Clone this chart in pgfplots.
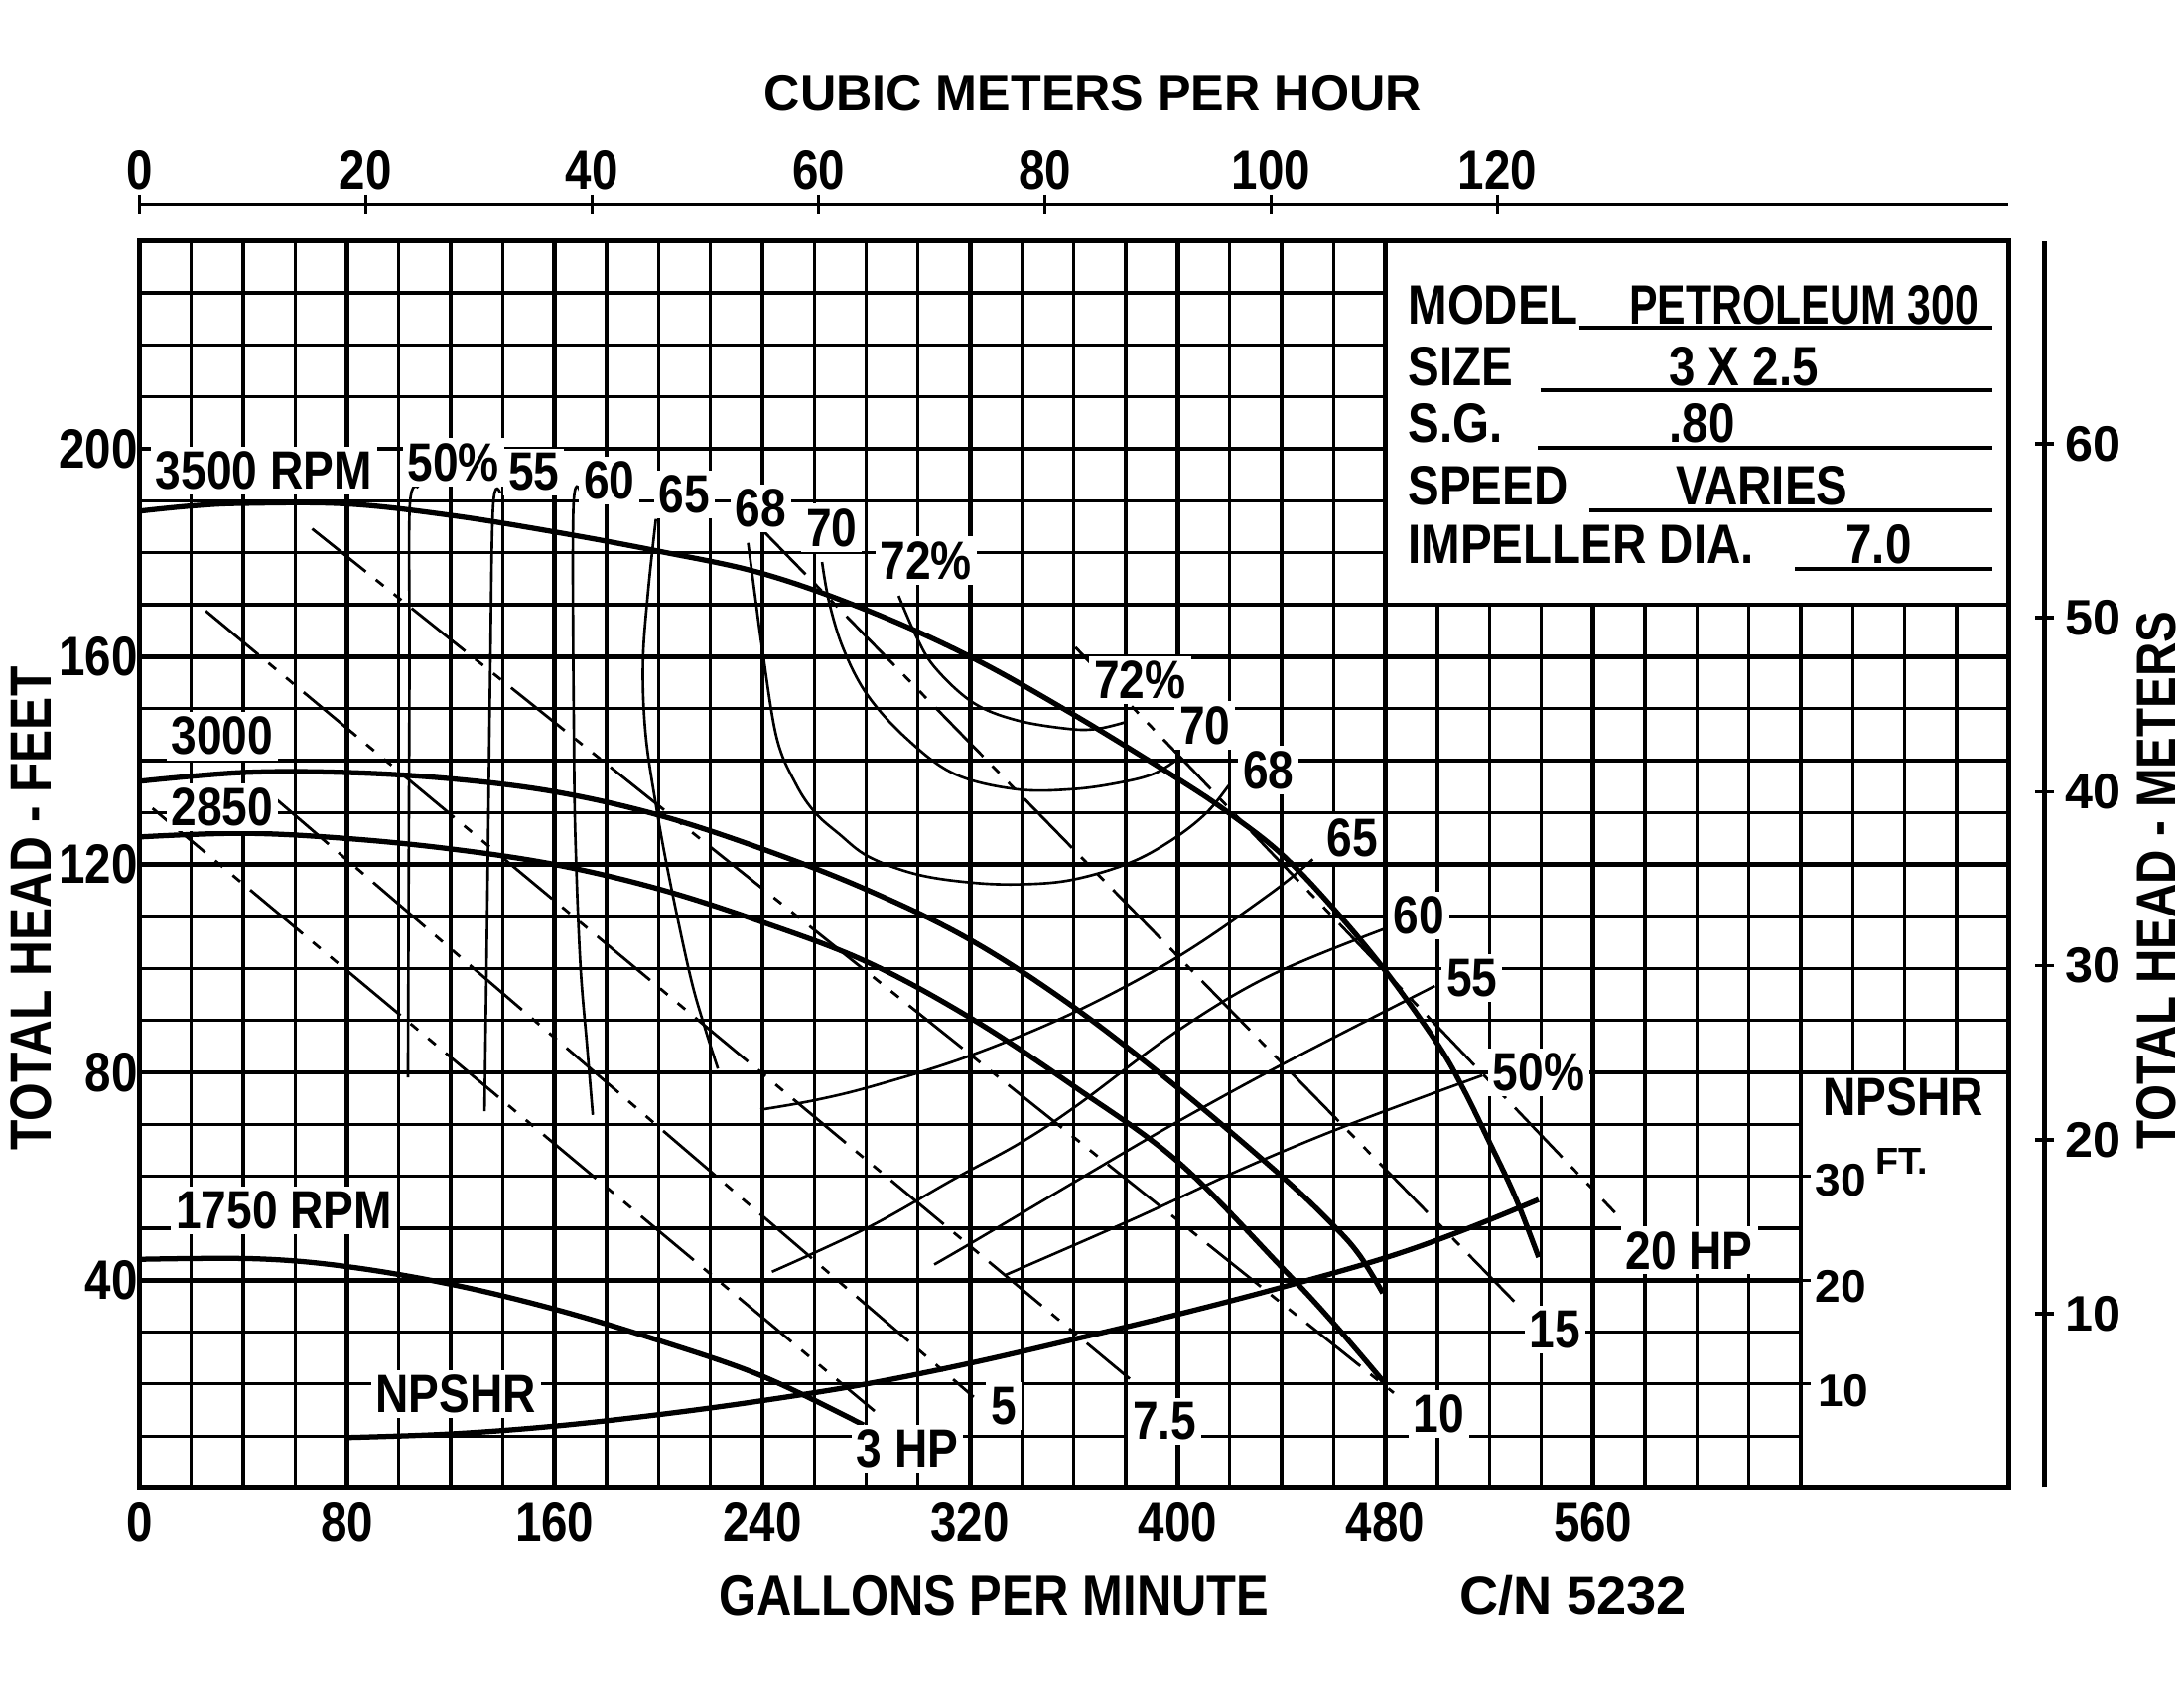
\documentclass[border=0pt]{standalone}
\usepackage{fontspec}
\setmainfont{Liberation Sans}[FakeStretch=0.85]
\newfontfamily\widefont{Liberation Sans}
\usepackage{pgfplots}
\pgfplotsset{compat=1.18}

\newcommand{\fTick}{\fontsize{17}{17}\selectfont\bfseries}
\newcommand{\fLab}{\fontsize{16.5}{17}\selectfont\bfseries}
\newcommand{\fBox}{\fontsize{17}{17}\selectfont\bfseries}
\newcommand{\fWide}{\widefont\fontsize{15.3}{16}\selectfont\bfseries}

\pgfplotsset{
  head/.style={line width=1.6pt, smooth, tension=0.6, no markers},
  eff/.style={line width=0.8pt, smooth, tension=0.6, no markers},
  hp/.style={line width=0.85pt, no markers, dash pattern=on 21pt off 4pt on 3pt off 4pt on 3pt off 4pt},
}
\tikzset{lab/.style={fill=white, inner sep=1.5pt, font=\fLab}}

\begin{document}
\begin{tikzpicture}
\useasboundingbox (-1.5,-2.16) rectangle (22.02,16.02);

% cubic meters per hour scale (top)
\begin{axis}[at={(0,0)}, anchor=south west, scale only axis,
  width=20.13cm, height=13.821cm,
  xmin=0, xmax=165.14, ymin=0, ymax=1,
  hide y axis, axis x line*=top, axis line style={-, line width=1pt},
  xtick={0,20,...,120}, xticklabels={0,20,40,60,80,100,120},
  tick align=center, major tick length=6pt, tick style={line width=1pt, black},
  xticklabel style={font=\fTick, yshift=-2pt}]
\end{axis}

% total head in metres (right)
\begin{axis}[at={(0,0)}, anchor=south west, scale only axis,
  width=20.52cm, height=13.425cm,
  xmin=0, xmax=1, ymin=0, ymax=71.64,
  hide x axis, axis y line*=right, axis line style={-, line width=1.5pt},
  ytick={10,20,...,60}, yticklabels={10,20,30,40,50,60},
  tick align=center, major tick length=0.2cm, tick style={line width=1.1pt, black},
  yticklabel style={font=\fWide, anchor=west}]
\end{axis}

% main chart: GPM vs total head in feet
\begin{axis}[at={(0,0)}, anchor=south west, scale only axis,
  width=20.13cm, height=13.425cm,
  xmin=0, xmax=720, ymin=0, ymax=240,
  xtick={0,80,...,720}, xticklabels={0,80,160,240,320,400,480,560,{},{}},
  ytick={0,40,...,240}, yticklabels={{},40,80,120,160,200,{}},
  minor x tick num=3, minor y tick num=3,
  grid=both,
  major grid style={line width=1.45pt, black},
  minor grid style={line width=1pt, black},
  major tick length=0pt, minor tick length=0pt,
  xticklabel style={font=\fTick, yshift=-1pt},
  yticklabel style={font=\fTick, xshift=3pt},
  axis line style={line width=1.6pt},
  clip=false]

% blank areas: data box and NPSHR scale
\fill[white] (axis cs:480,170) rectangle (axis cs:720,240);
\fill[white] (axis cs:640,0) rectangle (axis cs:720,80);
\draw[line width=1.45pt] (axis cs:640,0) -- (axis cs:640,80) -- (axis cs:720,80);
\draw[line width=1.5pt] (axis cs:480,240) -- (axis cs:480,170) -- (axis cs:720,170);

% NPSHR scale (NPSHR ft = head ft / 2)
\draw[line width=1pt] (axis cs:640,60) -- (axis cs:643.8,60);
\draw[line width=1pt] (axis cs:640,40) -- (axis cs:643.8,40);
\draw[line width=1pt] (axis cs:640,20) -- (axis cs:643.8,20);
\node[font=\fWide\fontsize{14}{14}\selectfont] at (axis cs:655.4,59.2) {30};
\node[font=\fWide\fontsize{14}{14}\selectfont] at (axis cs:655.5,38.8) {20};
\node[font=\fWide\fontsize{14}{14}\selectfont] at (axis cs:656.4,18.7) {10};
\node[font=\fontsize{16.5}{17}\selectfont\bfseries] at (axis cs:679.5,75.3) {NPSHR};
\node[font=\widefont\fontsize{11.5}{12}\selectfont\bfseries] at (axis cs:679,62.8) {FT.};

% head curves
\addplot[head] coordinates {(0,188) (20,189) (40,189.5) (80,189.4) (120,187.2) (160,184) (200,180.3) (240,176) (280,169) (320,160) (360,148.8) (400,136.5) (420,129.8) (440,122) (460,111.5) (480,99.5) (500,85.5) (510,76.8) (520,66.6) (530,56) (539,44.4)};
\addplot[head] coordinates {(0,136) (40,137.7) (80,137.7) (120,136.5) (160,134) (200,129.5) (240,123) (280,115.2) (320,105.5) (360,92.5) (400,77) (440,60) (460,50.5) (470,44.8) (479,37.5)};
\addplot[head] coordinates {(0,125.3) (40,126) (80,125) (120,123) (160,120) (200,115.3) (240,108.9) (280,101.3) (320,90.5) (360,77.3) (400,62.8) (440,42.5) (460,31.7) (480,20)};
\addplot[head] coordinates {(0,44) (45,44.1) (80,42.6) (120,39.2) (160,34.4) (200,28.4) (240,21.5) (279,12.1)};
% NPSHR curve (plotted at twice NPSHR ft)
\addplot[head] coordinates {(80.4,9.7) (120,10.4) (160,11.9) (200,14.1) (240,16.8) (280,20) (320,24) (360,28.6) (400,33.4) (440,38.6) (480,44.3) (510,49.6) (539,55.5)};

% efficiency contours
\addplot[eff] coordinates {(103.5,79) (103.8,120) (104.1,160) (104.2,189) (107.5,192.5)};
\addplot[eff] coordinates {(133,72.5) (134,110) (135.2,158) (136.3,189) (139,191.5)};
\addplot[eff] coordinates {(174.7,71.8) (172.5,85) (170,100) (168.3,120) (167.5,140) (167.2,188.4) (170.6,190.5)};
\addplot[eff] coordinates {(222.9,80.7) (217.4,89.3) (212,99) (204,117.8) (199,131.5) (195,145.2) (194,158.9) (196,172.6) (199,186.5)};
\addplot[eff] coordinates {(239.3,72.8) (260,74.6) (283,77.4) (320,83.2) (360,91.5) (400,102.2) (436,114.5) (452,121)};
\addplot[eff] coordinates {(243.7,41.6) (281,50.2) (314,59.5) (340,66.6) (362,73.9) (400,88) (436,98.7) (479.6,107.6)};
\addplot[eff] coordinates {(306.2,43) (321.4,47.4) (362,59.4) (400,70.5) (444,82.5) (499,96.6)};
\addplot[eff] coordinates {(333.7,41) (382.7,51.7) (423.5,61.1) (464.3,69.6) (517.3,79.4)};
\addplot[eff] coordinates {(234.5,181.9) (237.2,171.7) (240,161.4) (245.5,144.4) (252.9,135.5) (260.3,130) (269.5,125.9) (281,121.5) (299.5,118.1) (321,116.5) (340.5,116.2) (359.7,117.1) (381.4,120.3) (398,124.8) (411,129.9) (419.6,135.2)};
\addplot[eff] coordinates {(263,178.2) (265.8,170.3) (271.3,161.4) (280.5,152.6) (295.2,144.4) (313.7,137.5) (337.6,134.5) (359.7,134.5) (378.1,135.8) (391,137.5) (400,140.3)};
\addplot[eff] coordinates {(292.5,171.7) (299,164.2) (306.3,158) (321,151.2) (337.6,147.8) (357.9,146.1) (369,146.1) (380,147.4)};

% horsepower lines
\addplot[hp] coordinates {(5.1,130.8) (283.2,14.8)};
\addplot[hp] coordinates {(52.9,132.5) (321.4,17.5)};
\addplot[hp] coordinates {(25.6,168.8) (381.5,21)};
\addplot[hp] coordinates {(66.6,184.6) (483.2,18.3)};
\addplot[hp] coordinates {(238.2,185.3) (529.6,35.9)};
\addplot[hp] coordinates {(360.6,161.8) (568.4,53)};

% curve labels
\node[lab] at (axis cs:48,195.8) {3500 RPM};
\node[lab] at (axis cs:32,144.7) {3000};
\node[lab] at (axis cs:32,131) {2850};
\node[lab] at (axis cs:55.8,53.4) {1750 RPM};
\node[lab] at (axis cs:122,18) {NPSHR};
\node[lab] at (axis cs:121,197.4) {50\%};
\node[lab] at (axis cs:152,195.5) {55};
\node[lab] at (axis cs:181,193.9) {60};
\node[lab] at (axis cs:210,191.2) {65};
\node[lab] at (axis cs:239.5,188.6) {68};
\node[lab] at (axis cs:266.7,184.8) {70};
\node[lab] at (axis cs:303,178.5) {72\%};
\node[lab] at (axis cs:385.5,155.5) {72\%};
\node[lab] at (axis cs:410.5,146.8) {70};
\node[lab] at (axis cs:435,138.2) {68};
\node[lab] at (axis cs:467.3,125.1) {65};
\node[lab] at (axis cs:492.8,110.2) {60};
\node[lab] at (axis cs:513.3,98.2) {55};
\node[lab] at (axis cs:539,80) {50\%};
\node[lab] at (axis cs:597,45.7) {20 HP};
\node[lab] at (axis cs:545.4,30.5) {15};
\node[lab] at (axis cs:500.5,14.3) {10};
\node[lab] at (axis cs:395,12.8) {7.5};
\node[lab] at (axis cs:333,15.7) {5};
\node[lab] at (axis cs:295.8,7.6) {3 HP};

% data box
\node[font=\fBox, anchor=base west, inner xsep=0pt] at (axis cs:488.5,223.9) {MODEL};
\node[font=\fBox, anchor=base west, inner xsep=0pt] at (axis cs:573.7,223.9) {\scalebox{0.9}[1]{PETROLEUM 300}};
\node[font=\fBox, anchor=base west, inner xsep=0pt] at (axis cs:488.5,212.1) {SIZE};
\node[font=\fBox, anchor=base] at (axis cs:618,212.1) {3 X 2.5};
\node[font=\fBox, anchor=base west, inner xsep=0pt] at (axis cs:488.5,201.3) {S.G.};
\node[font=\fBox, anchor=base] at (axis cs:602,201.3) {.80};
\node[font=\fBox, anchor=base west, inner xsep=0pt] at (axis cs:488.5,189.2) {SPEED};
\node[font=\fBox, anchor=base] at (axis cs:625,189.2) {VARIES};
\node[font=\fBox, anchor=base west, inner xsep=0pt] at (axis cs:488.5,178) {IMPELLER DIA.};
\node[font=\fBox, anchor=base] at (axis cs:670,178) {7.0};
\draw[line width=1.1pt] (axis cs:554.7,223.3) -- (axis cs:713.7,223.3);
\draw[line width=1.1pt] (axis cs:539.7,211.3) -- (axis cs:713.7,211.3);
\draw[line width=1.1pt] (axis cs:538.7,200.2) -- (axis cs:713.7,200.2);
\draw[line width=1.1pt] (axis cs:558.5,188.1) -- (axis cs:713.7,188.1);
\draw[line width=1.1pt] (axis cs:637.8,176.9) -- (axis cs:713.7,176.9);

% frame
\draw[line width=1.6pt] (rel axis cs:0,0) rectangle (rel axis cs:1,1);

% titles
\node[font=\widefont\fontsize{15.3}{16}\selectfont\bfseries] at (axis cs:367.3,268.4) {CUBIC METERS PER HOUR};
\node[font=\fontsize{17.5}{18}\selectfont\bfseries] at (axis cs:329.2,-20.6) {GALLONS PER MINUTE};
\node[font=\widefont\fontsize{16.5}{17}\selectfont\bfseries] at (axis cs:552.3,-20.6) {C/N 5232};
\node[font=\fontsize{17.8}{18}\selectfont\bfseries, rotate=90] at (axis cs:-41.8,111.5) {TOTAL HEAD - FEET};
\node[font=\fontsize{17}{18}\selectfont\bfseries, rotate=90] at (axis cs:777,116.9) {TOTAL HEAD - METERS};
\end{axis}
\end{tikzpicture}
\end{document}
